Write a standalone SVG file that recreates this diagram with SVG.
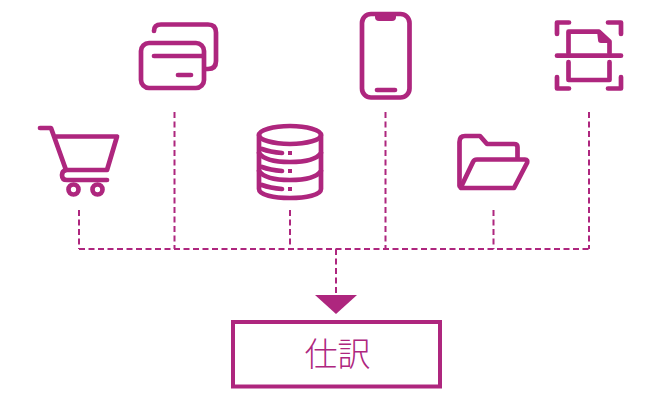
<svg xmlns="http://www.w3.org/2000/svg" width="660" height="400" viewBox="0 0 660 400">
<style>
.i{fill:none;stroke:#ae267e;stroke-width:4.700;stroke-linecap:round;stroke-linejoin:round}
.f{fill:#ae267e}
.d{fill:none;stroke:#ae267e;stroke-width:2;stroke-dasharray:6 3.500}
text{font-family:"Noto Sans CJK JP","Noto Sans",sans-serif;font-size:33px;font-weight:300;fill:#ae267e;text-anchor:middle}
</style>
<rect width="660" height="400" fill="#fff"/>
<g id="connectors">
<path class="d" d="M79 210V249"/>
<path class="d" d="M174.500 112V249"/>
<path class="d" d="M290 210V249"/>
<path class="d" d="M385.500 112V249"/>
<path class="d" d="M493.500 210V249"/>
<path class="d" d="M589 112V249"/>
<path class="d" d="M79 249H589"/>
<path class="d" d="M336 249V296"/>
<path class="f" d="M315 295H357L336 314Z"/>
</g>
<g id="cart">
<path class="i" d="M40 128H51L66 170H107L117 136.500H54"/>
<path class="i" d="M66 170Q62 171 62 175Q62 180 67 180H107"/>
<circle class="i" cx="73.500" cy="189.500" r="5"/>
<circle class="i" cx="97.500" cy="189.500" r="5"/>
</g>
<g id="cards">
<rect class="i" x="141" y="43" width="63" height="45" rx="8"/>
<path class="i" d="M154 56H203M178 75H191"/>
<path class="i" d="M154 31Q154 24.500 161 24.500H208Q216 24.500 216 32.500V61Q216 69 208 69H206"/>
</g>
<g id="database">
<ellipse class="i" cx="290" cy="135" rx="31" ry="9"/>
<path class="i" d="M259 135V189C259 195 274 198 290 198S321 195 321 189V135"/>
<path class="i" d="M259 171C263 177 275 180 290 180S317 177 321 171"/>
<path class="i" d="M259 153C263 159 275 162 290 162S317 159 321 153"/>
<path class="i" d="M262 149Q270 152 282 153M262 167Q270 170 282 171M262 185Q270 188 282 189"/>
<path class="f" d="M288 151h4v4h-4zM288 169h4v4h-4zM288 187h4v4h-4z"/>
</g>
<g id="phone">
<rect class="i" x="362" y="14" width="47.500" height="83.500" rx="9"/>
<path class="f" d="M375 13H396V17Q396 21 392 21H379Q375 21 375 17Z"/>
<path class="i" d="M377 90H395"/>
</g>
<g id="folder">
<path class="i" d="M459.500 186V142Q459.500 136 465 136H480L487 144H514Q517.500 144 517.500 147V158"/>
<path class="i" d="M462 188H514L527 163Q528 159.500 525 159.500H477Q474 159.500 473 162L461 187Q460 188 462 188Z"/>
</g>
<g id="scan">
<path class="i" d="M557 34V22.500H569M608 22.500H621V34M557 77V88.500H569M608 88.500H621V77"/>
<path class="i" d="M557 55.700H621"/>
<path class="i" d="M568.500 53V31.700H599L609.500 41.500V53"/>
<path class="f" d="M597 31H600L611 41V43H601Q598 43 598 40Z"/>
<path class="i" d="M568.500 62V80H609.500V62"/>
</g>
<g id="shiwake">
<rect x="233" y="322" width="207" height="64.500" fill="none" stroke="#ae267e" stroke-width="4"/>
<text x="337.500" y="365.500">仕訳</text>
</g>
</svg>
